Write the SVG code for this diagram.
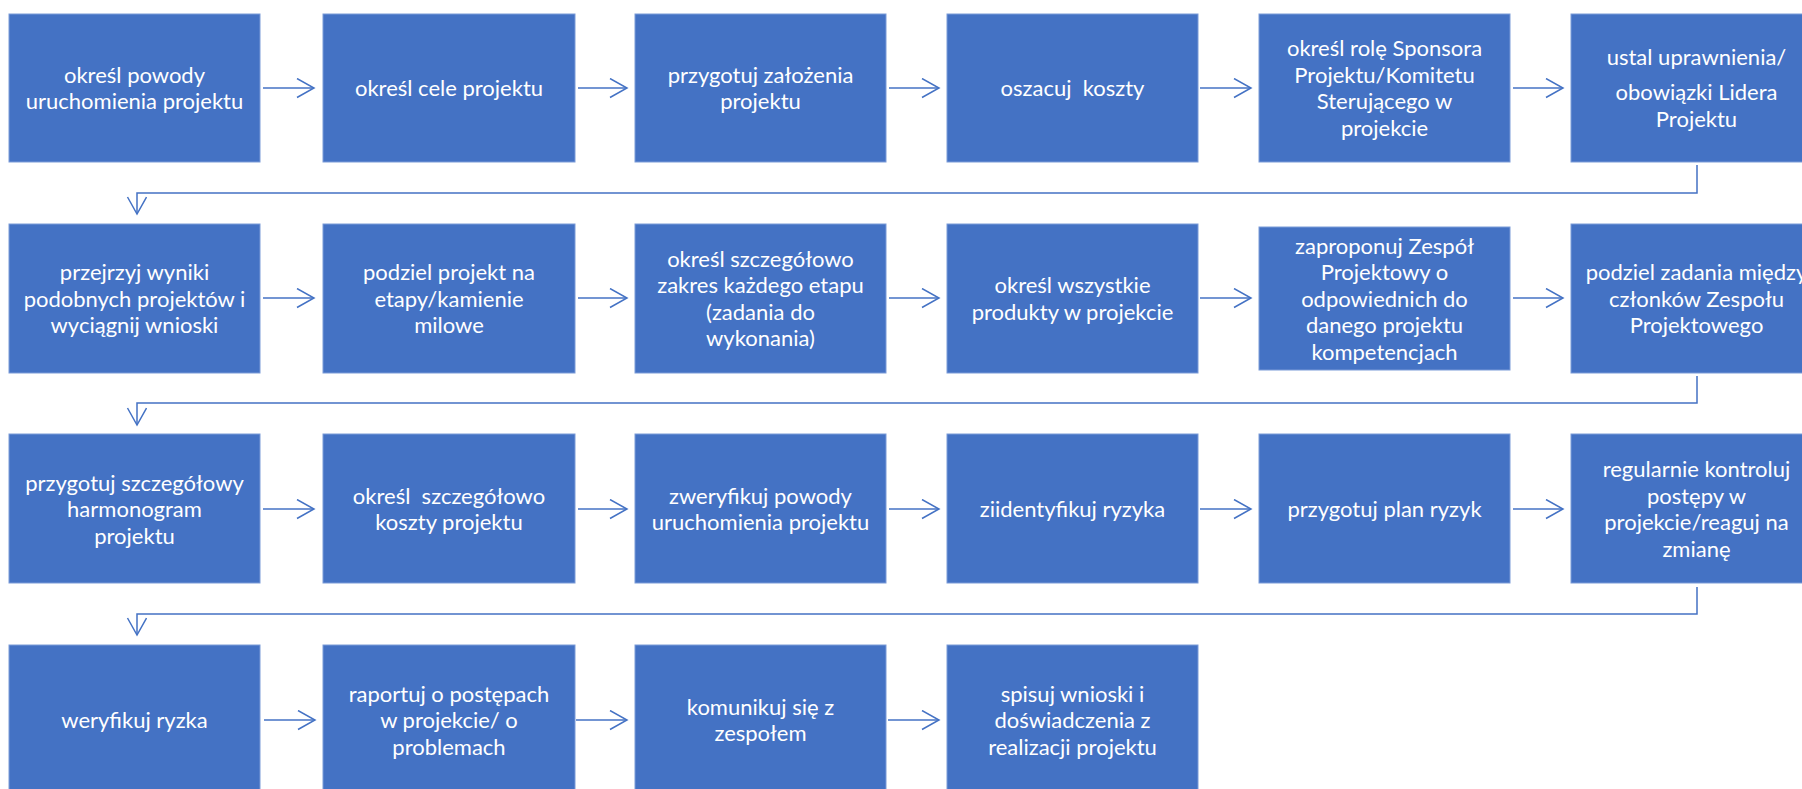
<svg xmlns="http://www.w3.org/2000/svg" width="1802" height="789" viewBox="0 0 1802 789">
<defs>
<style>
.box{fill:#4472C4;stroke:#7b9bd8;stroke-width:1}
.t{font-family:Lato,"Open Sans","Liberation Sans",sans-serif;font-size:22px;fill:#ffffff;text-anchor:middle;white-space:pre}
.c{fill:none;stroke:#4472C4;stroke-width:1.5}
</style>
<marker id="ah" markerUnits="userSpaceOnUse" markerWidth="22" markerHeight="24" refX="18" refY="10" orient="auto" viewBox="0 0 22 24">
<path d="M1,0.5 L18,10 L1,19.5" fill="none" stroke="#4472C4" stroke-width="1.5"/>
</marker>
</defs>
<rect width="1802" height="789" fill="#ffffff"/>

<g id="connectors">
<path class="c" d="M263,88 H314" marker-end="url(#ah)"/>
<path class="c" d="M578,88 H627" marker-end="url(#ah)"/>
<path class="c" d="M889,88 H939" marker-end="url(#ah)"/>
<path class="c" d="M1200,88 H1251" marker-end="url(#ah)"/>
<path class="c" d="M1513,88 H1563" marker-end="url(#ah)"/>
<path class="c" d="M1697,165 V193 H137 V214" marker-end="url(#ah)"/>
<path class="c" d="M263,298 H314" marker-end="url(#ah)"/>
<path class="c" d="M578,298 H627" marker-end="url(#ah)"/>
<path class="c" d="M889,298 H939" marker-end="url(#ah)"/>
<path class="c" d="M1200,298 H1251" marker-end="url(#ah)"/>
<path class="c" d="M1513,298 H1563" marker-end="url(#ah)"/>
<path class="c" d="M1697,376 V403 H137 V425" marker-end="url(#ah)"/>
<path class="c" d="M263,509 H314" marker-end="url(#ah)"/>
<path class="c" d="M578,509 H627" marker-end="url(#ah)"/>
<path class="c" d="M889,509 H939" marker-end="url(#ah)"/>
<path class="c" d="M1200,509 H1251" marker-end="url(#ah)"/>
<path class="c" d="M1513,509 H1563" marker-end="url(#ah)"/>
<path class="c" d="M1697,587 V614 H137 V635" marker-end="url(#ah)"/>
<path class="c" d="M264,720 H315" marker-end="url(#ah)"/>
<path class="c" d="M576,720 H627" marker-end="url(#ah)"/>
<path class="c" d="M888,720 H939" marker-end="url(#ah)"/>
</g>

<g id="n1"><rect class="box" x="9" y="14" width="251" height="148"/>
<text class="t" x="134.5" y="82.75">określ powody</text><text class="t" x="134.5" y="109.25">uruchomienia projektu</text></g>
<g id="n2"><rect class="box" x="323" y="14" width="252" height="148"/>
<text class="t" x="449" y="96">określ cele projektu</text></g>
<g id="n3"><rect class="box" x="635" y="14" width="251" height="148"/>
<text class="t" x="760.5" y="82.75">przygotuj założenia</text><text class="t" x="760.5" y="109.25">projektu</text></g>
<g id="n4"><rect class="box" x="947" y="14" width="251" height="148"/>
<text class="t" x="1072.5" y="96">oszacuj  koszty</text></g>
<g id="n5"><rect class="box" x="1259" y="14" width="251" height="148"/>
<text class="t" x="1384.5" y="56.25">określ rolę Sponsora</text><text class="t" x="1384.5" y="82.75">Projektu/Komitetu</text><text class="t" x="1384.5" y="109.25">Sterującego w</text><text class="t" x="1384.5" y="135.75">projekcie</text></g>
<g id="n6"><rect class="box" x="1571" y="14" width="251" height="148"/>
<text class="t" x="1696.5" y="65">ustal uprawnienia/</text><text class="t" x="1696.5" y="100">obowiązki Lidera</text><text class="t" x="1696.5" y="126.5">Projektu</text></g>

<g id="n7"><rect class="box" x="9" y="224" width="251" height="149"/>
<text class="t" x="134.5" y="280">przejrzyj wyniki</text><text class="t" x="134.5" y="306.5">podobnych projektów i</text><text class="t" x="134.5" y="333">wyciągnij wnioski</text></g>
<g id="n8"><rect class="box" x="323" y="224" width="252" height="149"/>
<text class="t" x="449" y="280">podziel projekt na</text><text class="t" x="449" y="306.5">etapy/kamienie</text><text class="t" x="449" y="333">milowe</text></g>
<g id="n9"><rect class="box" x="635" y="224" width="251" height="149"/>
<text class="t" x="760.5" y="266.75">określ szczegółowo</text><text class="t" x="760.5" y="293.25">zakres każdego etapu</text><text class="t" x="760.5" y="319.75">(zadania do</text><text class="t" x="760.5" y="346.25">wykonania)</text></g>
<g id="n10"><rect class="box" x="947" y="224" width="251" height="149"/>
<text class="t" x="1072.5" y="293.25">określ wszystkie</text><text class="t" x="1072.5" y="319.75">produkty w projekcie</text></g>
<g id="n11"><rect class="box" x="1259" y="227" width="251" height="143"/>
<text class="t" x="1384.5" y="253.5">zaproponuj Zespół</text><text class="t" x="1384.5" y="280">Projektowy o</text><text class="t" x="1384.5" y="306.5">odpowiednich do</text><text class="t" x="1384.5" y="333">danego projektu</text><text class="t" x="1384.5" y="359.5">kompetencjach</text></g>
<g id="n12"><rect class="box" x="1571" y="224" width="251" height="149"/>
<text class="t" x="1696.5" y="280">podziel zadania między</text><text class="t" x="1696.5" y="306.5">członków Zespołu</text><text class="t" x="1696.5" y="333">Projektowego</text></g>

<g id="n13"><rect class="box" x="9" y="434" width="251" height="149"/>
<text class="t" x="134.5" y="490.5">przygotuj szczegółowy</text><text class="t" x="134.5" y="517">harmonogram</text><text class="t" x="134.5" y="543.5">projektu</text></g>
<g id="n14"><rect class="box" x="323" y="434" width="252" height="149"/>
<text class="t" x="449" y="503.75">określ  szczegółowo</text><text class="t" x="449" y="530.25">koszty projektu</text></g>
<g id="n15"><rect class="box" x="635" y="434" width="251" height="149"/>
<text class="t" x="760.5" y="503.75">zweryfikuj powody</text><text class="t" x="760.5" y="530.25">uruchomienia projektu</text></g>
<g id="n16"><rect class="box" x="947" y="434" width="251" height="149"/>
<text class="t" x="1072.5" y="517">ziidentyfikuj ryzyka</text></g>
<g id="n17"><rect class="box" x="1259" y="434" width="251" height="149"/>
<text class="t" x="1384.5" y="517">przygotuj plan ryzyk</text></g>
<g id="n18"><rect class="box" x="1571" y="434" width="251" height="149"/>
<text class="t" x="1696.5" y="477.25">regularnie kontroluj</text><text class="t" x="1696.5" y="503.75">postępy w</text><text class="t" x="1696.5" y="530.25">projekcie/reaguj na</text><text class="t" x="1696.5" y="556.75">zmianę</text></g>

<g id="n19"><rect class="box" x="9" y="645" width="251" height="149"/>
<text class="t" x="134.5" y="728">weryfikuj ryzka</text></g>
<g id="n20"><rect class="box" x="323" y="645" width="252" height="149"/>
<text class="t" x="449" y="701.5">raportuj o postępach</text><text class="t" x="449" y="728">w projekcie/ o</text><text class="t" x="449" y="754.5">problemach</text></g>
<g id="n21"><rect class="box" x="635" y="645" width="251" height="149"/>
<text class="t" x="760.5" y="714.75">komunikuj się z</text><text class="t" x="760.5" y="741.25">zespołem</text></g>
<g id="n22"><rect class="box" x="947" y="645" width="251" height="149"/>
<text class="t" x="1072.5" y="701.5">spisuj wnioski i</text><text class="t" x="1072.5" y="728">doświadczenia z</text><text class="t" x="1072.5" y="754.5">realizacji projektu</text></g>
</svg>
